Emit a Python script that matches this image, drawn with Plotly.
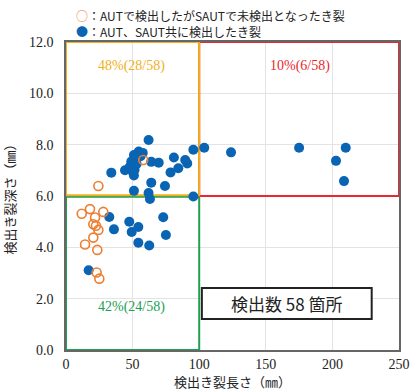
import plotly.graph_objects as go

# AUT-only detected cracks (orange open circles): length (mm), depth (mm)
aut_only_len = [11.8, 18.0, 28.0, 21.8, 20.5, 22.5, 24.3, 20.5, 14.3, 23.5, 23.0, 25.0, 24.3, 58.0]
aut_only_dep = [5.31, 5.49, 5.38, 5.16, 4.90, 4.84, 4.68, 4.38, 4.11, 3.90, 3.02, 2.78, 6.39, 7.40]

# Cracks detected by both AUT and SAUT (blue filled circles)
both_len = [34.0, 44.3, 49.0, 51.0, 51.5, 51.0, 51.0, 54.6, 57.6, 62.0, 64.0, 69.6, 64.0, 62.0,
            74.3, 78.5, 81.0, 84.3, 89.5, 91.0, 95.6, 48.0, 52.5, 56.0, 50.0, 53.0,
            103.8, 123.9, 175.0, 210.0, 202.7, 208.7,
            17.0, 32.5, 36.0, 47.5, 54.3, 49.3, 54.3, 62.5, 73.0, 75.0, 63.0, 95.6]
both_dep = [6.91, 7.00, 7.34, 7.60, 7.02, 6.80, 6.20, 7.73, 7.68, 8.18, 7.33, 7.30, 6.52, 6.12,
            6.39, 6.92, 7.50, 7.08, 7.40, 7.27, 7.80, 7.15, 7.45, 7.55, 6.95, 7.25,
            7.88, 7.70, 7.88, 7.88, 7.37, 6.58,
            3.11, 5.18, 4.70, 5.00, 4.79, 4.60, 4.18, 4.07, 5.17, 4.48, 5.88, 5.98]

x_ticks = [0, 50, 100, 150, 200, 250]
y_ticks = [0, 2, 4, 6, 8, 10, 12]
y_tick_text = ["0.0", "2.0", "4.0", "6.0", "8.0", "10.0", "12.0"]

legend_orange = "：AUTで検出したがSAUTで未検出となったき裂"
legend_blue = "：AUT、SAUT共に検出したき裂"

ORANGE = "#ED7D31"
BLUE = "#0A64B4"
GOLD = "#F0B020"
RED = "#E8282E"
GREEN = "#20A050"
CJK = "Noto Sans CJK JP"
SERIF = "Liberation Serif, DejaVu Serif, serif"

W, H = 411, 392
L, R, T, B = 66, 12, 42, 42
pw, ph = W - L - R, H - T - B

fig = go.Figure()
fig.add_trace(go.Scatter(
    x=both_len, y=both_dep, mode="markers", name=legend_blue, showlegend=False,
    marker=dict(symbol="circle", size=10, color=BLUE)))
fig.add_trace(go.Scatter(
    x=aut_only_len, y=aut_only_dep, mode="markers", name=legend_orange, showlegend=False,
    marker=dict(symbol="circle-open", size=9, color=ORANGE, line=dict(width=1.6, color=ORANGE))))

shapes = [
    dict(type="rect", xref="x", yref="y", x0=0, x1=100, y0=0, y1=5.97,
         line=dict(color=GREEN, width=2), layer="between"),
    dict(type="rect", xref="x", yref="y", x0=100, x1=250, y0=6, y1=12,
         line=dict(color=RED, width=2), layer="between"),
    dict(type="rect", xref="x", yref="y", x0=0, x1=100, y0=6.03, y1=12,
         line=dict(color=GOLD, width=2), layer="between"),
    dict(type="rect", xref="x", yref="y", x0=102, x1=229.5, y0=1.21, y1=2.42,
         line=dict(color="#222222", width=2), fillcolor="white", layer="above"),
]

def px_to_paper(sx, sy):
    return (sx - L) / pw, (H - B - sy) / ph

lx1, ly1 = px_to_paper(74, 15)
lx2, ly2 = px_to_paper(74, 32)

annotations = [
    dict(x=49.5, y=11.06, xref="x", yref="y", text="48%(28/58)", showarrow=False,
         font=dict(family=SERIF, size=14, color=GOLD)),
    dict(x=175.5, y=11.06, xref="x", yref="y", text="10%(6/58)", showarrow=False,
         font=dict(family=SERIF, size=14, color=RED)),
    dict(x=49.5, y=1.68, xref="x", yref="y", text="42%(24/58)", showarrow=False,
         font=dict(family=SERIF, size=14, color=GREEN)),
    dict(x=165.8, y=1.82, xref="x", yref="y", text="検出数 58 箇所", showarrow=False,
         font=dict(family=CJK, size=17, color="#222222")),
    dict(x=lx1, y=ly1, xref="paper", yref="paper", xanchor="left", yanchor="middle",
         text="<span style='color:%s'>○</span>%s" % (ORANGE, legend_orange), showarrow=False,
         font=dict(family=CJK, size=12, color="#222222")),
    dict(x=lx2, y=ly2, xref="paper", yref="paper", xanchor="left", yanchor="middle",
         text="<span style='color:%s'>●</span>%s" % (BLUE, legend_blue), showarrow=False,
         font=dict(family=CJK, size=12, color="#222222")),
]

fig.update_layout(
    width=W, height=H,
    margin=dict(l=L, r=R, t=T, b=B, autoexpand=False),
    paper_bgcolor="white", plot_bgcolor="white",
    shapes=shapes, annotations=annotations,
    showlegend=False,
    font=dict(family=CJK, color="#222222"),
)
fig.update_xaxes(
    range=[0, 250], tickvals=x_ticks, ticks="", showgrid=True, gridcolor="#E3E3E3",
    gridwidth=1, zeroline=False, showline=True, linecolor="#666666", linewidth=1.5, mirror=True,
    automargin=False, ticklabeloverflow="allow",
    tickfont=dict(family=SERIF, size=14, color="#222222"),
    title=dict(text="検出き裂長さ（㎜）", font=dict(family=CJK, size=13, color="#222222"),
               standoff=0))
fig.update_yaxes(
    range=[0, 12], tickvals=y_ticks, ticktext=y_tick_text, ticks="", showgrid=True,
    gridcolor="#E3E3E3", gridwidth=1, zeroline=False, showline=True, linecolor="#666666",
    linewidth=1.5, mirror=True, automargin=False, ticklabelstandoff=8,
    ticklabeloverflow="allow",
    tickfont=dict(family=SERIF, size=14, color="#222222"),
    title=dict(text="検出き裂深さ（㎜）", font=dict(family=CJK, size=13, color="#222222"),
               standoff=12))

fig.write_html(
    "out.html",
    config={"displayModeBar": False},
    post_script="document.body.style.margin='0';"
                "document.documentElement.style.overflow='hidden';"
                "document.body.style.overflow='hidden';")
